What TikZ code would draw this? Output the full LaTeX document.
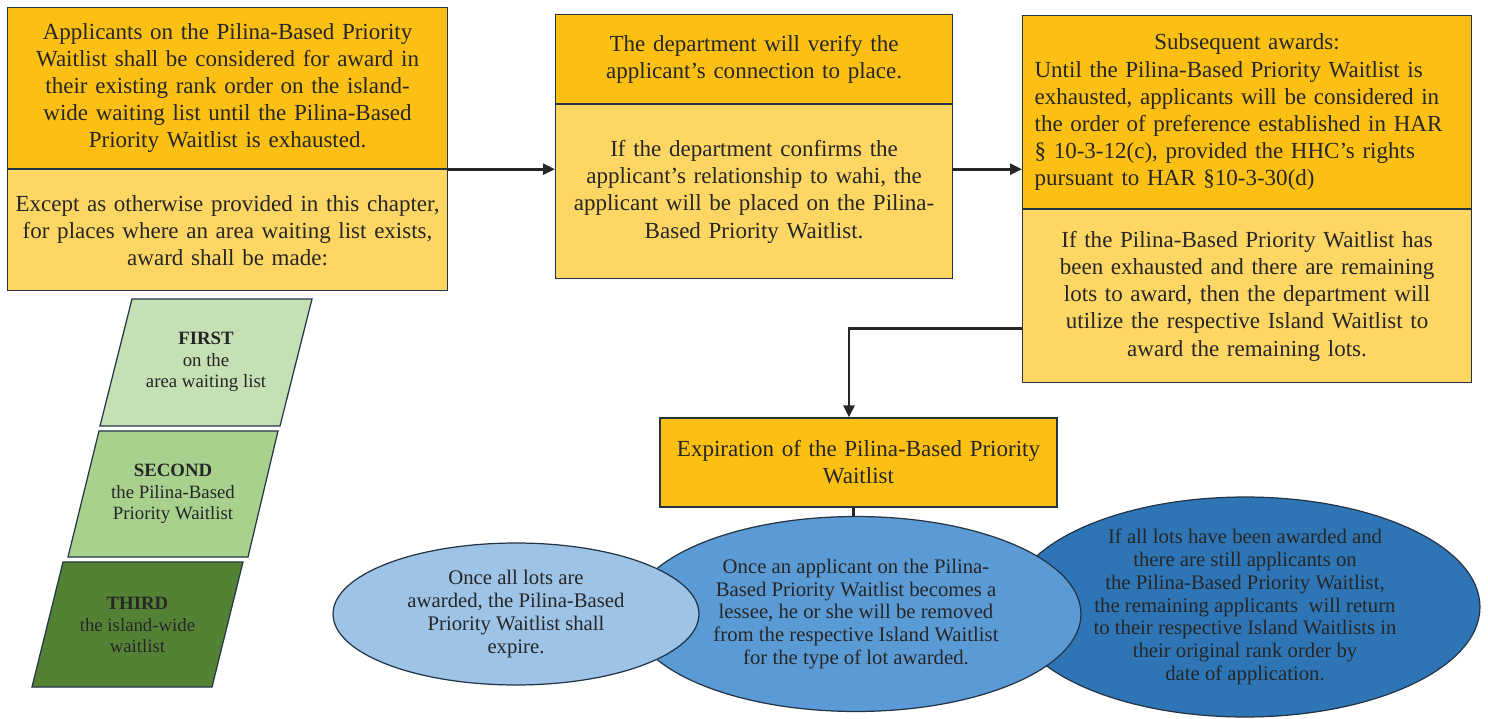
\documentclass[tikz,border=0pt]{standalone}
\usepackage{fontspec}
\setmainfont{Liberation Serif}
\usetikzlibrary{arrows.meta,positioning,calc,shapes.geometric}
\usepackage{xcolor}

\definecolor{gold}{HTML}{FBC013}
\definecolor{lightgold}{HTML}{FDD663}
\definecolor{navy}{HTML}{243447}
\definecolor{ink}{HTML}{262626}
\definecolor{blue1}{HTML}{9DC3E6}
\definecolor{blue2}{HTML}{5B9BD5}
\definecolor{blue3}{HTML}{2E75B6}
\definecolor{green1}{HTML}{C5E0B4}
\definecolor{green2}{HTML}{A9D18E}
\definecolor{green3}{HTML}{548235}

\newcommand\boxfont{\fontsize{13.1}{15.4}\selectfont}
\newcommand\ovalfont{\fontsize{11.8}{13}\selectfont}
\newcommand\priofont{\fontsize{10.7}{12.2}\selectfont}

\begin{document}
\begin{tikzpicture}[x=0.02cm, y=-0.02cm,
    box/.style={rectangle, draw=navy, line width=0.7pt, fill=#1, text=ink, align=center, inner xsep=2pt, inner ysep=2pt, font=\boxfont},
    box/.default=gold,
    oval/.style={ellipse, draw=navy, line width=0.7pt, fill=#1, text=ink, align=center, inner xsep=0pt, inner ysep=-6pt, font=\ovalfont},
    prio/.style={draw=navy, line width=0.7pt, fill=#1},
    arr/.style={-{Triangle[length=2.4mm, width=2.2mm]}, line width=1.5pt, draw=ink}
]
\useasboundingbox (0,0) rectangle (1488,719);

% First step
\node[box, minimum width=8.8cm, minimum height=3.22cm, text width=8.6cm, anchor=north west] (apply) at (7,7) {Applicants on the Pilina-Based Priority\\Waitlist shall be considered for award in\\their existing rank order on the island-\\wide waiting list until the Pilina-Based\\Priority Waitlist is exhausted.};
\node[box=lightgold, minimum width=8.8cm, minimum height=2.42cm, text width=8.6cm, below=0pt of apply] (except) {Except as otherwise provided in this chapter,\\for places where an area waiting list exists,\\award shall be made:};

% Verification
\node[box, minimum width=7.94cm, minimum height=1.78cm, text width=7.6cm, anchor=north west] (verify) at (555,14) {The department will verify the\\applicant's connection to place.};
\node[box=lightgold, minimum width=7.94cm, minimum height=3.48cm, text width=7.6cm, below=0pt of verify] (confirm) {If the department confirms the\\applicant's relationship to wahi, the\\applicant will be placed on the Pilina-\\Based Priority Waitlist.};

% Subsequent awards
\node[box, minimum width=8.98cm, minimum height=3.86cm, text width=8.5cm, align=left, anchor=north west] (subseq) at (1022,15) {\makebox[\linewidth][c]{Subsequent awards:}\\Until the Pilina-Based Priority Waitlist is\\exhausted, applicants will be considered in\\the order of preference established in HAR\\§ 10-3-12(c), provided the HHC's rights\\pursuant to HAR §10-3-30(d)};
\node[box=lightgold, minimum width=8.98cm, minimum height=3.46cm, text width=8.5cm, below=0pt of subseq] (remain) {If the Pilina-Based Priority Waitlist has\\been exhausted and there are remaining\\lots to award, then the department will\\utilize the respective Island Waitlist to\\award the remaining lots.};

% Expiration
\node[box, minimum width=7.94cm, minimum height=1.78cm, text width=7.6cm] (expire) at (858.5,462.5) {Expiration of the Pilina-Based Priority\\Waitlist};

% Award order
\draw[prio=green1] (132,299) -- (312,299) -- (280,426) -- (100,426) -- cycle;
\node[font=\priofont, align=center, text=ink] (first) at (206,362) {\textbf{FIRST}\\on the\\area waiting list};
\draw[prio=green2] (99,431) -- (278,431) -- (248,557) -- (68,557) -- cycle;
\node[font=\priofont, align=center, text=ink] (second) at (173,494) {\textbf{SECOND}\\the Pilina-Based\\Priority Waitlist};
\draw[prio=green3] (63,562) -- (243,562) -- (212,687) -- (32,687) -- cycle;
\node[font=\priofont, align=center, text=ink] (third) at (137.5,625) {\textbf{THIRD}\\the island-wide\\waitlist};

% Outcomes
\node[oval=blue3, minimum width=9.4cm, minimum height=4.4cm] (return) at (1245,607) {If all lots have been awarded and\\there are still applicants on\\the Pilina-Based Priority Waitlist,\\the remaining applicants\ \ will return\\to their respective Island Waitlists in\\their original rank order by\\date of application.};
\node[oval=blue2, minimum width=9cm, minimum height=3.9cm] (lessee) at (856,614) {Once an applicant on the Pilina-\\Based Priority Waitlist becomes a\\lessee, he or she will be removed\\from the respective Island Waitlist\\for the type of lot awarded.};
\node[oval=blue1, minimum width=7.32cm, minimum height=2.84cm] (allgone) at (516,614) {Once all lots are\\awarded, the Pilina-Based\\Priority Waitlist shall\\expire.};

% Arrows
\draw[arr] (apply.south east) -- (apply.south east -| confirm.west);
\draw[arr] (apply.south east -| confirm.east) -- (apply.south east -| subseq.west);
\draw[arr] ([yshift=-0.65cm]remain.west) -| ([xshift=-0.19cm]expire.north);
\draw[line width=1.5pt, ink] ([xshift=-0.1cm]expire.south) -- ([xshift=-0.1cm]expire.south |- lessee.north);

\end{tikzpicture}
\end{document}
